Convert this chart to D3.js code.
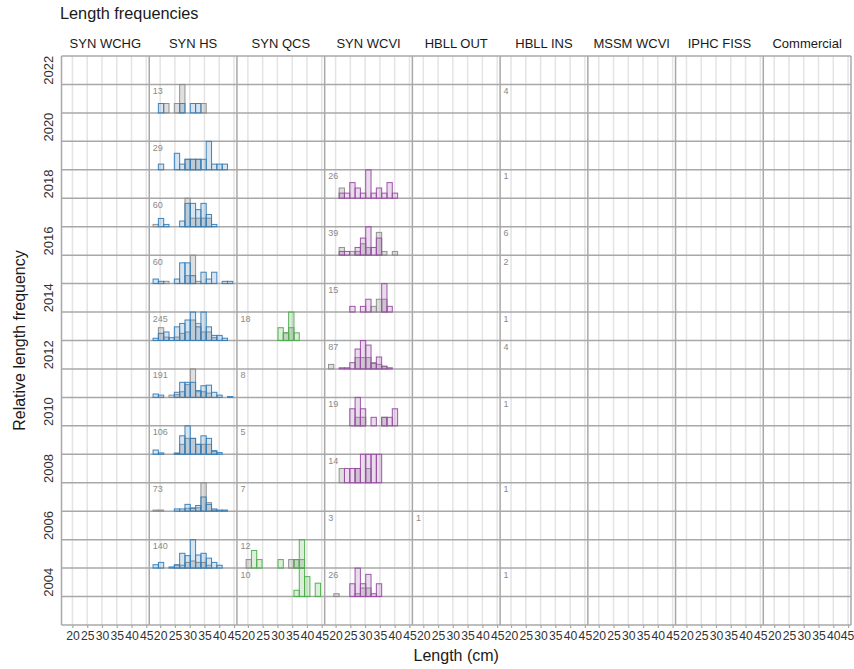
<!DOCTYPE html>
<html>
<head>
<meta charset="utf-8">
<script src="https://cdnjs.cloudflare.com/ajax/libs/d3/7.8.5/d3.min.js"></script>
<style>
  body { margin: 0; background: #fff; }
  text { font-family: "Liberation Sans", Arial, sans-serif; }
</style>
</head>
<body>
<div id="my_dataviz"></div>
<script>
// facets
var surveys = ["SYN WCHG","SYN HS","SYN QCS","SYN WCVI","HBLL OUT","HBLL INS","MSSM WCVI","IPHC FISS","Commercial"];
var years = [2022,2021,2020,2019,2018,2017,2016,2015,2014,2013,2012,2011,2010,2009,2008,2007,2006,2005,2004,2003];
var yearTicks = [2022,2020,2018,2016,2014,2012,2010,2008,2006,2004];
var lengthTicks = [20,25,30,35,40,45];

// length bins (cm), left edge of each bar
var binStarts = [17.6,19.4,21.2,23.0,24.8,26.6,28.4,30.2,32.0,33.8,35.6,37.4,39.2,41.0,42.8];
var binWidth = 1.8;

// relative length frequency per bin (max bar in a year = 1)
var hsYears = [2021,2019,2017,2015,2013,2011,2009,2007,2005];
var hsFemale = [
  [0,.33,0,0,0,.33,0,.33,.33,0,0,0,0,0,0],
  [0,.2,0,0,.58,.2,.37,.37,.37,.37,1,.2,.2,.2,0],
  [0,.29,.08,0,0,.2,.82,.82,.6,.82,.43,.08,0,0,0],
  [.16,.08,0,0,.16,.73,.73,.28,0,.4,.16,.4,0,.08,.08],
  [.08,.25,.3,.1,.48,.6,.72,1,.48,1,.48,.18,.18,.08,0],
  [.12,.08,0,0,.18,.53,.53,.53,.24,.41,.43,.18,.08,0,.03],
  [.15,.05,0,0,.04,.65,1,.56,.35,.65,.56,.13,.06,0,0],
  [0,0,0,0,.08,.08,.24,.1,.2,.5,.24,.08,.04,.04,0],
  [.12,.2,0,.04,.12,.52,.44,1,.46,.52,.35,.2,.1,0,0]
];
var hsMale = [
  [0,0,.33,0,.33,1,0,0,0,.33,0,0,0,0,0],
  [0,0,0,0,0,0,.37,.37,.37,0,0,0,0,0,0],
  [.08,0,0,0,0,0,1,.3,.3,.3,.3,0,0,0,0],
  [0,0,.08,0,0,0,.28,1,.08,0,0,0,0,0,0],
  [0,.45,.12,0,.12,.25,.3,.72,.6,.3,.3,.1,0,0,0],
  [0,0,0,.08,.1,.2,.45,1,.2,.2,.15,0,0,0,0],
  [0,0,0,0,.04,.35,.56,.56,.35,.35,.35,.1,0,0,0],
  [.04,.04,0,0,0,0,.1,.12,.12,1,.3,.04,0,0,0],
  [0,0,0,0,.1,.1,.2,.25,.2,.2,.1,0,0,0,0]
];

var qcsYears = [2013,2005,2004];
var qcsFemale = [
  [0,0,0,0,0,0,0,.45,.27,1,.27,0,0,0,0],
  [0,0,.62,.3,0,0,0,.3,0,0,.3,1,0,0,0],
  [0,0,0,0,0,0,0,0,0,0,.22,1,.7,0,.47]
];
var qcsMale = [
  [0,0,0,0,0,0,0,0,.27,.45,0,0,0,0,0],
  [0,.3,0,0,0,0,0,0,0,.3,.3,.3,0,0,0],
  [0,0,0,0,0,0,0,0,0,0,0,0,0,0,0]
];

var wcviYears = [2018,2016,2014,2012,2010,2008,2004];
var wcviFemale = [
  [0,0,.18,.18,.55,.36,.18,1,.18,.36,.18,.55,.18,0,0],
  [0,0,.13,.13,0,.27,.6,1,.27,.6,0,0,0,0,0],
  [0,0,0,0,.2,0,.2,.45,0,0,1,.2,0,0,0],
  [0,0,.04,.04,.22,.7,1,.84,.2,.42,.1,.04,0,0,0],
  [0,0,0,0,.6,1,.6,0,.3,0,.3,.3,.6,0,0],
  [0,0,0,.5,.5,.5,1,1,1,1,0,0,0,0,0],
  [0,0,0,0,.45,1,.45,.78,.1,.45,0,0,0,0,0]
];
var wcviMale = [
  [0,0,.36,0,0,0,0,0,0,0,0,0,0,0,0],
  [0,0,.27,0,.13,.13,.4,.27,0,.8,.13,0,.13,0,0],
  [0,0,0,0,0,0,0,0,.2,.45,.45,0,0,0,0],
  [.16,0,0,0,0,.4,.4,.4,.22,.16,.08,0,0,0,0],
  [0,0,0,0,0,.3,.3,0,0,0,.3,0,0,0,0],
  [0,0,.5,0,0,.5,0,.5,0,0,0,0,0,0,0],
  [0,.1,0,0,0,.1,.3,.3,0,0,0,0,0,0,0]
];

// number of fish measured
var hsCounts = [13,29,60,60,245,191,106,73,140];
var qcsCountYears = [2013,2011,2009,2007,2005,2004];
var qcsCounts = [18,8,5,7,12,10];
var wcviCountYears = [2018,2016,2014,2012,2010,2008,2006,2004];
var wcviCounts = [26,39,15,87,19,14,3,26];
var hbllOutCountYears = [2006];
var hbllOutCounts = [1];
var hbllInsCountYears = [2021,2018,2016,2015,2013,2012,2010,2007,2004];
var hbllInsCounts = [4,1,6,2,1,4,1,1,1];

var colors = {"SYN HS":"#377eb8","SYN QCS":"#4daf4a","SYN WCVI":"#984ea3"};
var maleCol = "#8c8c8c";

var width = 854, height = 669;
var svg = d3.select("#my_dataviz").append("svg")
  .attr("width", width).attr("height", height);

var px = d3.scaleBand().domain(surveys).range([61.5, 851]).paddingInner(0);
var py = d3.scaleBand().domain(years).range([56, 625]).paddingInner(0);
var x = d3.scaleLinear().domain([16.3, 46]).range([0, px.bandwidth()]);
var h = d3.scaleLinear().domain([0, 1]).range([0, py.bandwidth()]);

// build bars
var bars = [];
function addBars(survey, yrs, vals, sex){
  for(var r=0;r<yrs.length;r++){
    for(var i=0;i<binStarts.length;i++){
      if(vals[r][i] > 0){
        bars.push({survey:survey, year:yrs[r], start:binStarts[i], v:vals[r][i], sex:sex});
      }
    }
  }
}
addBars("SYN HS", hsYears, hsMale, "M");
addBars("SYN QCS", qcsYears, qcsMale, "M");
addBars("SYN WCVI", wcviYears, wcviMale, "M");
addBars("SYN HS", hsYears, hsFemale, "F");
addBars("SYN QCS", qcsYears, qcsFemale, "F");
addBars("SYN WCVI", wcviYears, wcviFemale, "F");

var counts = [];
function addCounts(survey, yrs, ns){
  for(var i=0;i<yrs.length;i++) counts.push({survey:survey, year:yrs[i], n:ns[i]});
}
addCounts("SYN HS", hsYears, hsCounts);
addCounts("SYN QCS", qcsCountYears, qcsCounts);
addCounts("SYN WCVI", wcviCountYears, wcviCounts);
addCounts("HBLL OUT", hbllOutCountYears, hbllOutCounts);
addCounts("HBLL INS", hbllInsCountYears, hbllInsCounts);

// vertical grid lines in each panel
var grid = svg.append("g");
surveys.forEach(function(s){
  grid.selectAll(null).data(lengthTicks).enter().append("line")
    .attr("x1", function(d){ return px(s) + x(d); })
    .attr("x2", function(d){ return px(s) + x(d); })
    .attr("y1", py.range()[0]).attr("y2", py.range()[1])
    .attr("stroke", "#e4e4e4").attr("stroke-width", 1.5);
});

// row lines and panel borders
var borders = svg.append("g").attr("stroke", "#a8a8a8").attr("stroke-width", 1.5);
years.concat(["end"]).forEach(function(y, i){
  var yy = i < years.length ? py(y) : py.range()[1];
  borders.append("line").attr("x1", px.range()[0]).attr("x2", px.range()[1])
    .attr("y1", yy).attr("y2", yy);
});
surveys.concat(["end"]).forEach(function(s, i){
  var xx = i < surveys.length ? px(s) : px.range()[1];
  borders.append("line").attr("x1", xx).attr("x2", xx)
    .attr("y1", py.range()[0]).attr("y2", py.range()[1]);
});

// histogram bars
svg.append("g").selectAll("rect").data(bars).enter().append("rect")
  .attr("x", function(d){ return px(d.survey) + x(d.start); })
  .attr("width", function(d){ return x(d.start + binWidth) - x(d.start); })
  .attr("y", function(d){ return py(d.year) + py.bandwidth() - h(d.v); })
  .attr("height", function(d){ return h(d.v); })
  .attr("fill", function(d){ return d.sex == "M" ? maleCol : colors[d.survey]; })
  .attr("fill-opacity", function(d){ return d.sex == "M" ? 0.28 : 0.2; })
  .attr("stroke", function(d){ return d.sex == "M" ? maleCol : colors[d.survey]; })
  .attr("stroke-opacity", 0.95)
  .attr("stroke-width", 1);

// sample size labels
svg.append("g").selectAll("text").data(counts).enter().append("text")
  .attr("x", function(d){ return px(d.survey) + 3.5; })
  .attr("y", function(d){ return py(d.year) + 9.5; })
  .attr("font-size", 9).attr("fill", "#8a8a8a")
  .text(function(d){ return d.n; });

// strip labels
svg.append("g").selectAll("text").data(surveys).enter().append("text")
  .attr("x", function(d){ return px(d) + px.bandwidth()/2; })
  .attr("y", 47.5)
  .attr("text-anchor", "middle").attr("font-size", 13).attr("fill", "#1a1a1a")
  .text(function(d){ return d; });

// x axes
surveys.forEach(function(s, si){
  var ax = svg.append("g")
    .attr("transform", "translate(" + px(s) + "," + py.range()[1] + ")")
    .call(d3.axisBottom(x).tickValues(lengthTicks).tickSize(3).tickPadding(3).tickFormat(d3.format("d")));
  ax.select(".domain").remove();
  ax.selectAll("line").attr("stroke", "#a8a8a8").attr("stroke-width", 1.2);
  ax.selectAll("text").attr("font-size", 12.2).attr("fill", "#333")
    .attr("font-family", "Liberation Sans, Arial, sans-serif");
  if(si == surveys.length - 1){
    // keep the last label inside the page
    ax.selectAll("text").filter(function(d){ return d == 45; }).attr("dx", -1);
  }
});

// year labels
svg.append("g").selectAll("text").data(yearTicks).enter().append("text")
  .attr("transform", function(d){ return "translate(53," + (py(d) + py.bandwidth()/2) + ") rotate(-90)"; })
  .attr("text-anchor", "middle").attr("font-size", 13).attr("fill", "#333")
  .text(function(d){ return d; });

// titles
svg.append("text").attr("x", 60).attr("y", 18.5)
  .attr("font-size", 16.3).attr("fill", "#1a1a1a").text("Length frequencies");
svg.append("text").attr("x", (px.range()[0] + px.range()[1])/2).attr("y", 661)
  .attr("text-anchor", "middle").attr("font-size", 16).attr("fill", "#1a1a1a").text("Length (cm)");
svg.append("text")
  .attr("transform", "translate(25," + (py.range()[0] + py.range()[1])/2 + ") rotate(-90)")
  .attr("text-anchor", "middle").attr("font-size", 16).attr("fill", "#1a1a1a")
  .text("Relative length frequency");
</script>
</body>
</html>
